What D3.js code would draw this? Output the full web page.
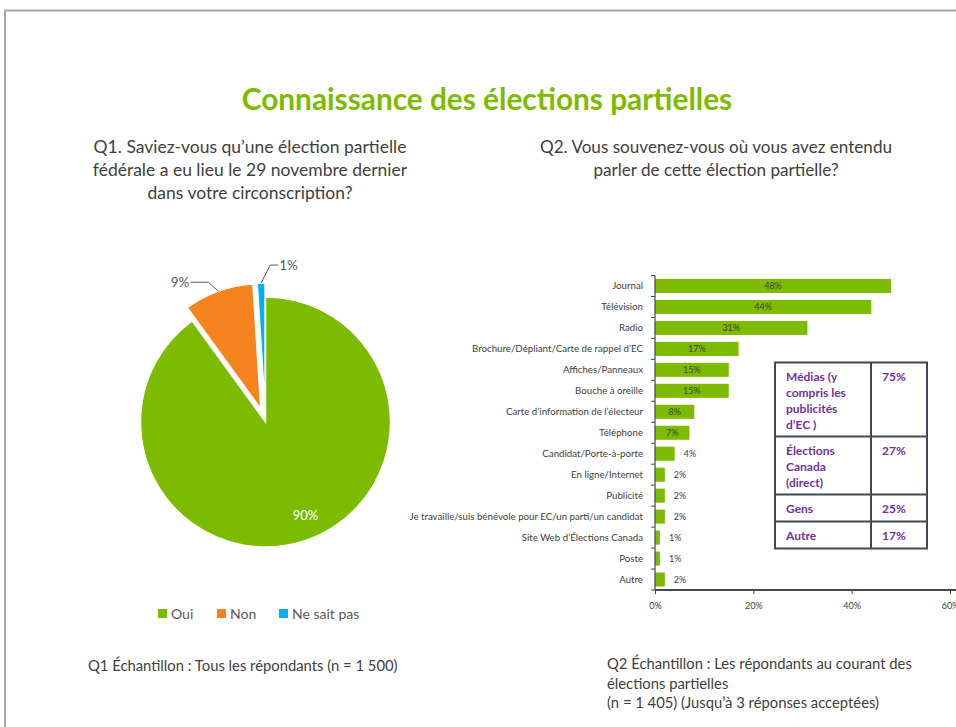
<!DOCTYPE html>
<html><head><meta charset="utf-8">
<script src="https://cdn.jsdelivr.net/npm/d3@7/dist/d3.min.js"></script>
<style>body{margin:0;background:#fff}svg{display:block}text{font-family:Lato,"Open Sans",sans-serif}</style>
</head><body>
<script>
// ---- data ----
const pieLabels = ["Oui", "Non", "Ne sait pas"];
const pieValues = [90, 9, 1];
const pieColors = ["#7cbb00", "#f5841f", "#00b0f0"];

const barCategories = ["Journal","Télévision","Radio","Brochure/Dépliant/Carte de rappel d’EC","Affiches/Panneaux","Bouche à oreille","Carte d’information de l’électeur","Téléphone","Candidat/Porte-à-porte","En ligne/Internet","Publicité","Je travaille/suis bénévole pour EC/un parti/un candidat","Site Web d’Élections Canada","Poste","Autre"];
const barValues = [48,44,31,17,15,15,8,7,4,2,2,2,1,1,2];
const xTicks = [0, 0.2, 0.4, 0.6];

const tableLabels = [["Médias (y","compris les","publicités","d’EC )"],["Élections","Canada","(direct)"],["Gens"],["Autre"]];
const tableValues = ["75%","27%","25%","17%"];

const W = 956, H = 727;
const svg = d3.select("body").append("svg").attr("width", W).attr("height", H);
const OS = "'Open Sans',sans-serif";

// frame
svg.append("path").attr("d", `M5,${H} V10.5 H${W}`).attr("fill","none").attr("stroke","#a6a6a6").attr("stroke-width",2);

// title
svg.append("text").attr("x", 487).attr("y", 110).attr("text-anchor","middle")
  .attr("font-size", 29.8).attr("font-weight","bold").attr("fill","#7cbb00")
  .text("Connaissance des élections partielles");

const grey = "#404040";
function lines(x, y0, dy, arr, size, anchor, fill, family) {
  arr.forEach((t,i)=> svg.append("text").attr("x",x).attr("y",y0+i*dy).attr("text-anchor",anchor||"middle")
    .attr("font-size",size).attr("fill",fill||grey).attr("font-family",family||null).text(t));
}
lines(250, 153, 23, ["Q1. Saviez-vous qu’une élection partielle","fédérale a eu lieu le 29 novembre dernier","dans votre circonscription?"], 17.5, "middle", "#404040");
lines(716, 153, 23, ["Q2. Vous souvenez-vous où vous avez entendu","parler de cette élection partielle?"], 17.1, "middle", "#404040");

// ---- pie ----
const cx = 265.5, cy = 422, R = 125;
const explode = [0, 14, 14];
const arcs = d3.pie().sort(null).startAngle(0).endAngle(2*Math.PI)(pieValues);
const arc = d3.arc().innerRadius(0).outerRadius(R);
const pg = svg.append("g").attr("transform",`translate(${cx},${cy})`);
arcs.forEach((a,i)=>{
  const m = (a.startAngle+a.endAngle)/2;
  const dx = Math.sin(m)*explode[i], dy = -Math.cos(m)*explode[i];
  pg.append("path").attr("d", arc(a)).attr("fill", pieColors[i])
    .attr("stroke","#fff").attr("stroke-width",1.5)
    .attr("transform",`translate(${dx},${dy})`);
});
const pctFmt = v => v + "%";
pg.append("text").attr("x", 40).attr("y", 98).attr("text-anchor","middle").attr("font-size",13)
  .attr("fill","#fff").text(pctFmt(pieValues[0]));
const leader = [
  null,
  {elbow:[-10,-9], h:-18, anchor:"end"},
  {elbow:[9,-18], h:8, anchor:"start"}
];
[1,2].forEach(i=>{
  const a = arcs[i], m = (a.startAngle+a.endAngle)/2;
  const r = R + explode[i];
  const p0 = [Math.sin(m)*r, -Math.cos(m)*r];
  const p1 = [p0[0]+leader[i].elbow[0], p0[1]+leader[i].elbow[1]];
  const p2 = [p1[0]+leader[i].h, p1[1]];
  pg.append("polyline").attr("points",[p0,p1,p2].map(p=>p.join(",")).join(" "))
    .attr("fill","none").attr("stroke","#595959").attr("stroke-width",1);
  pg.append("text").attr("x", p2[0] + (leader[i].anchor==="end"?-1:1)).attr("y", p2[1]+5)
    .attr("text-anchor", leader[i].anchor).attr("font-size",13.5).attr("fill","#595959").text(pctFmt(pieValues[i]));
});
// legend
const legX = [158, 217, 279];
pieLabels.forEach((l,i)=>{
  svg.append("rect").attr("x",legX[i]).attr("y",609).attr("width",9).attr("height",9).attr("fill",pieColors[i]);
  svg.append("text").attr("x",legX[i]+13).attr("y",618.5).attr("font-size",14).attr("fill","#595959").text(l);
});

// ---- bar chart ----
const x = d3.scaleLinear().domain([0,0.6]).range([655, 950]);
const y = d3.scaleBand().domain(barCategories).range([275.5, 590]).paddingInner(0.33).paddingOuter(0.165);
const bg = svg.append("g");
bg.selectAll("rect.bar").data(barCategories).join("rect").attr("class","bar")
  .attr("x", x(0)).attr("y", d=>y(d)).attr("height", y.bandwidth())
  .attr("width", (d,i)=> x(barValues[i]/100)-x(0)).attr("fill","#7cbb00");
barCategories.forEach((c,i)=>{
  const v = barValues[i], end = x(v/100);
  const inside = v >= 7;
  bg.append("text").attr("x", inside ? (x(0)+end)/2 : end + 9)
    .attr("y", y(c)+y.bandwidth()/2+3.3).attr("text-anchor", inside?"middle":"start")
    .attr("font-size", 9).attr("fill", "#404040").text(v+"%");
  bg.append("text").attr("x", 643).attr("y", y(c)+y.bandwidth()/2+3.4).attr("text-anchor","end")
    .attr("font-size", 9.7).attr("fill","#404040").text(c);
});
bg.append("line").attr("x1",655).attr("x2",655).attr("y1",275.5).attr("y2",590).attr("stroke","#404a55").attr("stroke-width",1.2);
d3.range(barCategories.length+1).forEach(k=>{
  const yy = 275.5 + k*y.step();
  bg.append("line").attr("x1",651).attr("x2",655).attr("y1",yy).attr("y2",yy).attr("stroke","#404a55").attr("stroke-width",1);
});
const xAxis = d3.axisBottom(x).tickValues(xTicks).tickFormat(d3.format(".0%")).tickSize(4).tickPadding(9);
const xg = svg.append("g").attr("transform","translate(0,590)").call(xAxis);
xg.select(".domain").attr("stroke","#404a55").attr("stroke-width",2).attr("d","M655,0H956");
xg.selectAll(".tick line").attr("stroke","#404a55");
xg.selectAll(".tick text").attr("font-size",9).attr("fill","#404040").attr("font-family","Lato,sans-serif");

// ---- table ----
const tx0 = 775, tx1 = 871, tx2 = 927;
const rowY = [362.5, 436.5, 494.5, 521.5, 548.5];
const tg = svg.append("g");
tg.append("rect").attr("x",tx0).attr("y",rowY[0]).attr("width",tx2-tx0).attr("height",rowY[4]-rowY[0])
  .attr("fill","#fff").attr("stroke","#3d4a56").attr("stroke-width",2);
tg.append("line").attr("x1",tx1).attr("x2",tx1).attr("y1",rowY[0]).attr("y2",rowY[4]).attr("stroke","#3d4a56").attr("stroke-width",2);
[1,2,3].forEach(k=> tg.append("line").attr("x1",tx0).attr("x2",tx2).attr("y1",rowY[k]).attr("y2",rowY[k]).attr("stroke","#3d4a56").attr("stroke-width",2));
tableLabels.forEach((ls,r)=>{
  ls.forEach((t,j)=> tg.append("text").attr("x",tx0+11).attr("y",rowY[r]+18+j*16.2).attr("font-size",12)
    .attr("font-weight","bold").attr("fill","#7030a0").text(t));
  tg.append("text").attr("x",tx1+11).attr("y",rowY[r]+18).attr("font-size",12)
    .attr("font-weight","bold").attr("fill","#7030a0").text(tableValues[r]);
});

// ---- footers ----
lines(88, 671, 20, ["Q1 Échantillon : Tous les répondants (n = 1 500)"], 14.8, "start", "#404040");
lines(607, 669, 19.5, ["Q2 Échantillon : Les répondants au courant des","élections partielles","(n = 1 405) (Jusqu’à 3 réponses acceptées)"], 14.8, "start", "#404040");
</script>
</body></html>
